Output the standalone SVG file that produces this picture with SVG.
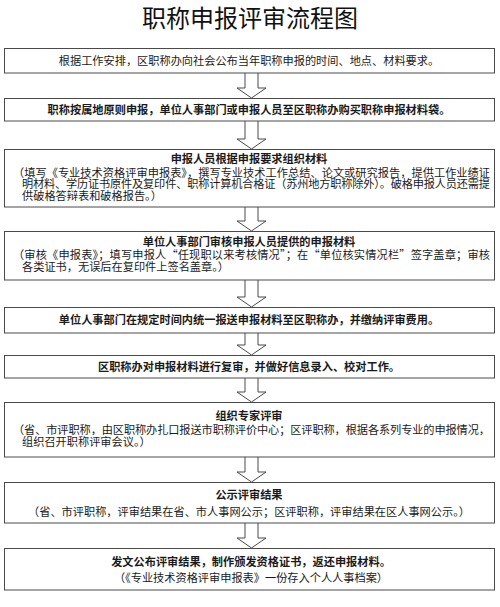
<svg xmlns="http://www.w3.org/2000/svg" width="500" height="607" viewBox="0 0 500 607">
<style>
.bg{fill:#ffffff}
.box{fill:#ffffff;stroke:#4a4a4a;stroke-width:1}
.arr{fill:#ffffff;stroke:#4a4a4a;stroke-width:1}
.t{font-family:"Noto Sans CJK SC","Noto Sans",sans-serif;font-size:11.2px;fill:#1a1a1a}
.c{text-anchor:middle}
.b{font-weight:bold}
.title{font-family:"Noto Sans CJK SC","Noto Sans",sans-serif;font-size:24px;fill:#111;text-anchor:middle}
</style>
<rect class="bg" x="0" y="0" width="500" height="607"/>
<text class="title" x="250" y="27">职称申报评审流程图</text>
<g id="connectors">
<path class="arr" d="M245,73 V88 H237 L251.5,98 L266,88 H258 V73"/>
<path class="arr" d="M245,121 V139 H237 L251.5,149 L266,139 H258 V121"/>
<path class="arr" d="M245,207 V221 H237 L251.5,231 L266,221 H258 V207"/>
<path class="arr" d="M245,280 V297 H237 L251.5,307 L266,297 H258 V280"/>
<path class="arr" d="M245,333 V345 H237 L251.5,355 L266,345 H258 V333"/>
<path class="arr" d="M245,378 V392 H237 L251.5,402 L266,392 H258 V378"/>
<path class="arr" d="M245,457 V472 H237 L251.5,482 L266,472 H258 V457"/>
<path class="arr" d="M245,523 V538 H237 L251.5,548 L266,538 H258 V523"/>
</g>
<g id="n1">
<rect class="box" x="4.5" y="48.5" width="490" height="24.5"/>
<text class="t c" x="249" y="65">根据工作安排，区职称办向社会公布当年职称申报的时间、地点、材料要求。</text>
</g>
<g id="n2">
<rect class="box" x="4.5" y="98.5" width="490" height="22.5"/>
<text class="t c b" x="249" y="114">职称按属地原则申报，单位人事部门或申报人员至区职称办购买职称申报材料袋。</text>
</g>
<g id="n3">
<rect class="box" x="4.5" y="149.5" width="490" height="57.5"/>
<text class="t c b" x="249" y="162.5">申报人员根据申报要求组织材料</text>
<text class="t" x="13" y="176.5" textLength="477" lengthAdjust="spacing">（填写《专业技术资格评审申报表》，撰写专业技术工作总结、论文或研究报告，提供工作业绩证</text>
<text class="t" x="22" y="188" textLength="468" lengthAdjust="spacing">明材料、学历证书原件及复印件、职称计算机合格证（苏州地方职称除外）。破格申报人员还需提</text>
<text class="t" x="22" y="199.5">供破格答辩表和破格报告。）</text>
</g>
<g id="n4">
<rect class="box" x="4.5" y="231.5" width="490" height="48.5"/>
<text class="t c b" x="249" y="245.5">单位人事部门审核申报人员提供的申报材料</text>
<text class="t" x="13" y="259" textLength="477" lengthAdjust="spacing">（审核《申报表》；填写申报人“任现职以来考核情况”；在“单位核实情况栏”签字盖章；审核</text>
<text class="t" x="22" y="270.5">各类证书，无误后在复印件上签名盖章。）</text>
</g>
<g id="n5">
<rect class="box" x="4.5" y="307.5" width="490" height="25.5"/>
<text class="t c b" x="249" y="324">单位人事部门在规定时间内统一报送申报材料至区职称办，并缴纳评审费用。</text>
</g>
<g id="n6">
<rect class="box" x="4.5" y="355.5" width="490" height="22.5"/>
<text class="t c b" x="249" y="370.5">区职称办对申报材料进行复审，并做好信息录入、校对工作。</text>
</g>
<g id="n7">
<rect class="box" x="4.5" y="402.5" width="490" height="54.5"/>
<text class="t c b" x="249" y="420">组织专家评审</text>
<text class="t" x="13" y="434" textLength="477" lengthAdjust="spacing">（省、市评职称，由区职称办扎口报送市职称评价中心；区评职称，根据各系列专业的申报情况，</text>
<text class="t" x="22" y="446">组织召开职称评审会议。）</text>
</g>
<g id="n8">
<rect class="box" x="4.5" y="482.5" width="490" height="40.5"/>
<text class="t c b" x="249" y="499">公示评审结果</text>
<text class="t c" x="249" y="516">（省、市评职称，评审结果在省、市人事网公示；区评职称，评审结果在区人事网公示。）</text>
</g>
<g id="n9">
<rect class="box" x="4.5" y="548.5" width="490" height="41.5"/>
<text class="t c b" x="251" y="566">发文公布评审结果，制作颁发资格证书，返还申报材料。</text>
<text class="t c" x="251" y="582">（《专业技术资格评审申报表》一份存入个人人事档案）</text>
</g>
</svg>
